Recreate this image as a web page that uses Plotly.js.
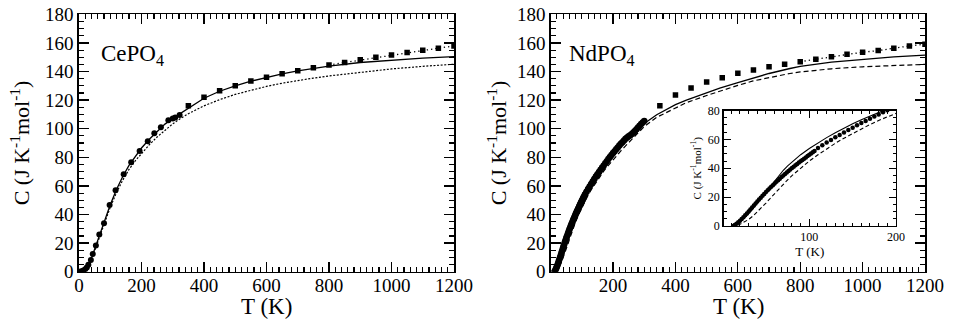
<!DOCTYPE html>
<html>
<head>
<meta charset="utf-8">
<script src="https://cdn.plot.ly/plotly-3.0.1.min.js"></script>
<style>
  html, body { margin: 0; padding: 0; background: #fff; }
  #chart { width: 955px; height: 321px; }
</style>
</head>
<body>
<div id="chart"></div>
<script>
// ---------- CePO4: heat capacity C (J K^-1 mol^-1) vs T (K) ----------
// low-temperature measurements (circles)
const ceLowT = [2, 6, 10, 14, 20, 25, 30, 38, 44, 54, 65, 80, 98, 117, 143, 167, 194, 220, 241, 262, 286, 300, 308, 322];
const ceLowC = [0, 0.1, 0.4, 0.9, 1.8, 3.0, 4.8, 8.2, 12.4, 18.4, 26.1, 33.9, 46.7, 56.9, 68.1, 76.5, 84.4, 91.2, 96.8, 101, 105.9, 107.2, 107.8, 109.6];
// high-temperature measurements (squares)
const ceHighT = [350, 400, 450, 500, 550, 600, 650, 700, 750, 800, 850, 900, 950, 1000, 1050, 1100, 1150, 1200];
const ceHighC = [116, 122, 126.6, 130, 133.4, 136, 138.5, 140.6, 142.7, 144.6, 146.3, 148.3, 150, 151.5, 153.2, 154.9, 156.3, 157.9];
// model curves
const ceModelT = [0, 10, 20, 30, 40, 50, 60, 70, 80, 90, 100, 120, 140, 160, 180, 200, 225, 250, 275, 300, 325, 350, 400, 450, 500, 550, 600, 650, 700, 750, 800, 900, 1000, 1100, 1200];
const ceSolidC = [0, 0.5, 1.9, 4.8, 9.5, 15.6, 22.4, 28.8, 34.6, 40.7, 46.8, 57.5, 66.6, 74.3, 80.5, 86.5, 92.6, 98.2, 103.2, 107.2, 110.8, 114.6, 121.3, 126.2, 130, 133.2, 135.9, 138.3, 140.4, 142.2, 143.8, 146.3, 148, 149.3, 150.4];
const ceLowerC = [0, 0.3, 1.4, 4.0, 8.5, 14.3, 20.6, 27, 33, 39, 45, 55.3, 64, 71.5, 77.5, 82.8, 88.8, 94.2, 99, 103.4, 107.2, 110.5, 116, 120.3, 124, 127, 129.6, 131.8, 133.7, 135.4, 136.9, 139.6, 141.8, 143.6, 145.1];

// ---------- NdPO4 ----------
// low-temperature measurements (circles)
const ndLowT = [12, 14, 16, 18, 20, 22, 24, 26, 28, 30, 32, 34, 36, 38, 40, 42, 44, 46, 48, 50,
  52, 54, 56, 58, 60, 62, 64, 66, 68, 70, 72, 74, 76, 78, 80, 82, 84, 86, 88, 90,
  92, 94, 96, 98, 100, 102, 104, 106, 110, 115, 120, 125, 130, 135, 140, 145, 150, 155,
  160, 165, 170, 175, 180, 185, 190, 195, 200, 205, 210, 215, 220, 225, 230, 235, 240,
  245, 250, 255, 260, 265, 270, 275, 280, 285, 290, 295, 300];
const ndLowC = [0, 0.7, 1.6, 2.6, 3.7, 4.9, 6.1, 7.4, 8.7, 10, 11.4, 12.8, 14.2, 15.6, 17, 18.3, 19.6, 20.9, 22.2, 23.5,
  24.7, 25.9, 27.1, 28.3, 29.5, 30.6, 31.7, 32.8, 33.9, 35, 36.1, 37.1, 38.1, 39.1, 40.1, 41.1, 42.1, 43, 43.9, 44.8,
  45.7, 46.6, 47.5, 48.4, 49.3, 50.2, 51.1, 52, 54, 55.9, 57.8, 59.6, 61.4, 63.1, 64.8, 66.5, 68.1, 69.7,
  71.3, 72.8, 74.3, 75.8, 77.3, 78.8, 80.2, 81.6, 83, 84.3, 85.6, 86.9, 88.2, 89.4, 90.6, 91.8, 93,
  93.9, 94.7, 95.5, 96.3, 97.3, 98.4, 99.6, 100.8, 102, 103.2, 104.3, 105.4];
// high-temperature measurements (squares)
const ndHighT = [350, 400, 450, 500, 550, 600, 650, 700, 750, 800, 850, 900, 950, 1000, 1050, 1100, 1150, 1200];
const ndHighC = [116.1, 123.6, 128.5, 132.6, 135.7, 138.8, 141.1, 143.4, 145.1, 146.9, 148.6, 150.4, 152.1, 153.5, 154.6, 156.3, 157.9, 159.1];
// model curves
const ndModelT = [10, 15, 20, 25, 30, 35, 40, 45, 50, 55, 60, 65, 70, 75, 80, 90, 100, 110, 120, 130, 140, 150, 160, 170, 180, 190, 200,
  225, 250, 275, 300, 340, 400, 435, 500, 542, 600, 649, 700, 767, 800, 900, 1000, 1100, 1200];
const ndSolidC = [0, 1, 3, 5.6, 8.6, 12, 15.8, 19.9, 24, 28, 31.8, 35.3, 38.6, 41.6, 44.4, 49.4, 53.7, 57.6, 61.2, 64.6, 67.8, 70.8, 73.6, 76.3, 78.8, 81.1, 83.3,
  88.9, 94.2, 99, 103.6, 109.8, 116.8, 120, 125.3, 128.3, 132.3, 135.6, 138.6, 142.1, 143.6, 146.5, 148.6, 150.2, 151.5];
const ndDashC = [0, 0.3, 1.2, 2.6, 4.5, 6.9, 9.7, 12.7, 15.9, 19.2, 22.5, 25.8, 29, 32, 34.9, 40.2, 45, 49.3, 53.5, 57.3, 60.8, 64.1, 67.3, 70.3, 73.1, 75.8, 78.3,
  84.5, 90.3, 96, 101.5, 108, 114.5, 118.2, 123.2, 126.4, 130.3, 133.4, 135.8, 138.6, 139.7, 141.9, 143.3, 144.3, 145];

// the dotted connector joins the high-temperature points from 800 K on
const fromT = (ts, cs, t0) => {
  const x = [], y = [];
  ts.forEach((t, i) => { if (t >= t0) { x.push(t); y.push(cs[i]); } });
  return { x, y };
};
const ceTail = fromT(ceHighT, ceHighC, 800);
const ndTail = fromT(ndHighT, ndHighC, 800);

const black = '#000';
const line = (x, y, xa, ya, dash, w) => ({
  x, y, xaxis: xa, yaxis: ya, type: 'scatter', mode: 'lines',
  line: { color: black, width: w || 1.2, dash: dash || 'solid' }, hoverinfo: 'skip'
});
const pts = (x, y, xa, ya, symbol, size) => ({
  x, y, xaxis: xa, yaxis: ya, type: 'scatter', mode: 'markers',
  marker: { color: black, symbol, size, line: { width: 0 } }, hoverinfo: 'skip'
});

const traces = [
  // CePO4 panel
  line(ceModelT, ceLowerC, 'x', 'y', '2px,1.6px', 1.2),
  line(ceModelT, ceSolidC, 'x', 'y', 'solid', 1.3),
  line(ceTail.x, ceTail.y, 'x', 'y', '1.3px,3px', 1.3),
  pts(ceLowT, ceLowC, 'x', 'y', 'circle', 6),
  pts(ceHighT, ceHighC, 'x', 'y', 'square', 5.5),
  // NdPO4 panel
  line(ndModelT, ndDashC, 'x2', 'y2', '5px,3px', 1.2),
  line(ndModelT, ndSolidC, 'x2', 'y2', 'solid', 1.3),
  line(ndTail.x, ndTail.y, 'x2', 'y2', '1.3px,3px', 1.3),
  pts(ndLowT, ndLowC, 'x2', 'y2', 'circle', 6.5),
  pts(ndHighT, ndHighC, 'x2', 'y2', 'square', 5.5),
  // NdPO4 inset, low-temperature region
  line(ndModelT, ndDashC, 'x3', 'y3', '4px,2.5px', 1.1),
  line(ndModelT, ndSolidC, 'x3', 'y3', 'solid', 1.1),
  pts(ndLowT, ndLowC, 'x3', 'y3', 'circle', 4.5)
];

const W = 955, H = 321;
const px = v => v / W;
const py = v => 1 - v / H;
const FONT = 'Liberation Serif';

const mainX = (domain, anchor, rangeMin) => ({
  domain, anchor, range: [rangeMin, 1200], tick0: 0, dtick: 200,
  ticks: 'inside', ticklen: 10, tickwidth: 1.3, tickcolor: black,
  minor: { dtick: 20, ticks: 'inside', ticklen: 5, tickwidth: 1.1, tickcolor: black },
  showline: true, linewidth: 1.6, linecolor: black, mirror: 'allticks',
  showgrid: false, zeroline: false, fixedrange: true,
  ticklabelstandoff: -4,
  tickfont: { size: 19, family: FONT, color: black }
});
const mainY = (domain, anchor, standoff) => ({
  domain, anchor, range: [0, 180], tick0: 0, dtick: 20,
  ticks: 'inside', ticklen: 10, tickwidth: 1.3, tickcolor: black,
  minor: { dtick: 5, ticks: 'inside', ticklen: 5, tickwidth: 1.1, tickcolor: black },
  showline: true, linewidth: 1.6, linecolor: black, mirror: 'allticks',
  showgrid: false, zeroline: false, fixedrange: true,
  tickfont: { size: 19, family: FONT, color: black },
  title: { text: 'C (J K<sup>-1</sup>mol<sup>-1</sup>)', font: { size: 22, family: FONT, color: black }, standoff }
});

// axis captions placed just under the tick labels of each main panel
const caption = (text, xc, yc, size) => ({
  text, xref: 'paper', yref: 'paper', x: px(xc), y: py(yc),
  xanchor: 'center', yanchor: 'middle', showarrow: false,
  font: { size, family: FONT, color: black }
});

const yDom = [py(271.7), py(14.3)];
const layout = {
  width: W, height: H,
  margin: { l: 0, r: 0, t: 0, b: 0 },
  paper_bgcolor: '#fff', plot_bgcolor: 'rgba(0,0,0,0)',
  showlegend: false,
  font: { family: FONT, color: black },
  xaxis: mainX([px(79), px(454)], 'y', 0),
  yaxis: mainY(yDom, 'x', 9),
  xaxis2: mainX([px(551), px(925)], 'y2', 1),
  yaxis2: mainY(yDom, 'x2', 4),
  xaxis3: {
    domain: [px(723.5), px(896)], anchor: 'y3', range: [1, 200], tick0: 0, dtick: 100,
    ticks: 'inside', ticklen: 7, tickwidth: 1.1, tickcolor: black,
    minor: { dtick: 10, ticks: 'inside', ticklen: 3.5, tickwidth: 1, tickcolor: black },
    showline: true, linewidth: 1.3, linecolor: black, mirror: 'allticks',
    showgrid: false, zeroline: false, fixedrange: true,
    ticklabelstandoff: -1,
    tickfont: { size: 12, family: FONT, color: black },
    title: { text: 'T (K)', font: { size: 13, family: FONT, color: black }, standoff: 1 }
  },
  yaxis3: {
    domain: [py(226), py(110.5)], anchor: 'x3', range: [0, 80], tick0: 0, dtick: 20,
    ticks: 'inside', ticklen: 7, tickwidth: 1.1, tickcolor: black,
    minor: { dtick: 5, ticks: 'inside', ticklen: 3.5, tickwidth: 1, tickcolor: black },
    showline: true, linewidth: 1.3, linecolor: black, mirror: 'allticks',
    showgrid: false, zeroline: false, fixedrange: true,
    tickfont: { size: 12, family: FONT, color: black },
    title: { text: 'C (J K<sup>-1</sup>mol<sup>-1</sup>)', font: { size: 11, family: FONT, color: black }, standoff: 4 }
  },
  annotations: [
    caption('T (K)', 266.5, 306, 23),
    caption('T (K)', 738, 306, 23),
    { text: 'CePO<sub>4</sub>', xref: 'paper', yref: 'paper', x: px(99), y: py(55),
      xanchor: 'left', yanchor: 'middle', showarrow: false, font: { size: 23, family: FONT, color: black } },
    { text: 'NdPO<sub>4</sub>', xref: 'paper', yref: 'paper', x: px(567), y: py(55),
      xanchor: 'left', yanchor: 'middle', showarrow: false, font: { size: 23, family: FONT, color: black } }
  ]
};

Plotly.newPlot('chart', traces, layout, { staticPlot: true, displayModeBar: false });
</script>
</body>
</html>
